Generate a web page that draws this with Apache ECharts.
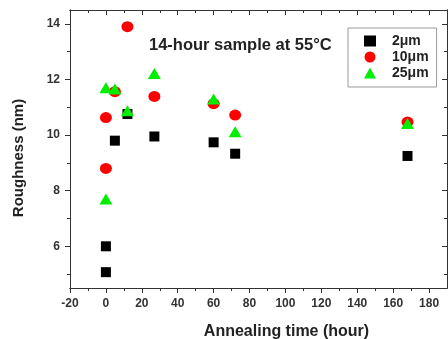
<!DOCTYPE html>
<html><head><meta charset="utf-8">
<script src="https://cdn.jsdelivr.net/npm/echarts@6/dist/echarts.min.js"></script>
<style>html,body{margin:0;padding:0;background:#fff}#c{width:448px;height:339px}</style>
</head><body><div id="c"></div>
<script>
const xTickLabels = [-20, 0, 20, 40, 60, 80, 100, 120, 140, 160, 180];
const xMinorTicks = [-10, 10, 30, 50, 70, 90, 110, 130, 150, 170];
const yTickLabels = [6, 8, 10, 12, 14];
const yMinorTicks = [5, 7, 9, 11, 13];
const seriesNames = ['2\u03bcm', '10\u03bcm', '25\u03bcm'];
const s2um = [[0, 6.0], [0, 5.07], [5, 9.8], [12, 10.76], [27, 9.95], [60, 9.74], [72, 9.33], [168, 9.25]];
const s10um = [[0, 10.63], [0, 8.8], [5, 11.56], [12, 13.9], [27, 11.39], [60, 11.13], [72, 10.72], [168, 10.47]];
const s25um = [[0, 11.7], [0, 7.7], [5, 11.66], [12, 10.88], [27, 12.22], [60, 11.3], [72, 10.12], [168, 10.42]];

const axisCol = '#333';
const labelFont = {fontFamily: 'Liberation Sans', fontWeight: 'bold', fontSize: 12, color: '#333'};
function xAx(pos, opts) {
  return Object.assign({
    type: 'value', min: -20, max: 190, position: pos, gridIndex: 0,
    splitLine: {show: false},
    axisLine: {show: true, onZero: false, lineStyle: {color: axisCol, width: 1}},
    axisLabel: {show: false},
    axisTick: {show: false}
  }, opts);
}
function yAx(pos, opts) {
  return Object.assign({
    type: 'value', min: 4.5, max: 14.5, position: pos, gridIndex: 0,
    splitLine: {show: false},
    axisLine: {show: true, onZero: false, lineStyle: {color: axisCol, width: 1}},
    axisLabel: {show: false},
    axisTick: {show: false}
  }, opts);
}
const tk = (vals, len, inside) => ({show: true, length: len, inside: inside, customValues: vals, lineStyle: {color: axisCol, width: 1}});
const chart = echarts.init(document.getElementById('c'), null, {renderer: 'canvas'});
chart.setOption({
  animation: false,
  backgroundColor: '#fff',
  title: {
    text: '14-hour sample at 55\u00b0C', left: 144, top: 32,
    textStyle: {fontFamily: 'Liberation Sans', fontWeight: 'bold', fontSize: 16.5, color: '#222'}
  },
  legend: {
    orient: 'vertical', left: 348, top: 28,
    data: seriesNames,
    itemWidth: 12, itemHeight: 11, itemGap: 2,
    padding: [6, 8, 7, 16],
    borderColor: '#999', borderWidth: 1,
    textStyle: {fontFamily: 'Liberation Sans', fontWeight: 'bold', fontSize: 14, color: '#222', padding: [0, 0, 0, 11], lineHeight: 14}
  },
  grid: {left: 70, right: 1, top: 10, bottom: 51, containLabel: false, outerBoundsMode: 'none'},
  xAxis: [
    xAx('bottom', {
      name: 'Annealing time (hour)', nameLocation: 'middle', nameGap: 36,
      nameTextStyle: {fontFamily: 'Liberation Sans', fontWeight: 'bold', fontSize: 16, color: '#222', padding: [0, 0, 0, 56]},
      axisLabel: {show: true, margin: 10, customValues: xTickLabels, ...labelFont},
      axisTick: tk(xTickLabels, 5, false)
    }),
    xAx('bottom', {axisTick: tk(xMinorTicks, 3, false)}),
    xAx('top', {axisTick: tk(xTickLabels, 5, true)}),
    xAx('top', {axisTick: tk(xMinorTicks, 3, true)})
  ],
  yAxis: [
    yAx('left', {
      name: 'Roughness (nm)', nameLocation: 'middle', nameGap: 44,
      nameTextStyle: {fontFamily: 'Liberation Sans', fontWeight: 'bold', fontSize: 15, color: '#222', padding: [0, 18, 0, 0]},
      axisLabel: {show: true, margin: 10, customValues: yTickLabels, ...labelFont},
      axisTick: tk(yTickLabels, 5, false)
    }),
    yAx('left', {axisTick: tk(yMinorTicks, 3, false)}),
    yAx('right', {axisTick: tk(yTickLabels, 5, true)}),
    yAx('right', {axisTick: tk(yMinorTicks, 3, true)})
  ],
  series: [
    {name: seriesNames[0], type: 'scatter', xAxisIndex: 0, yAxisIndex: 0, symbol: 'rect', symbolSize: 10,
     itemStyle: {color: '#000', opacity: 1}, data: s2um, z: 2},
    {name: seriesNames[1], type: 'scatter', xAxisIndex: 0, yAxisIndex: 0, symbol: 'circle', symbolSize: [12, 11],
     itemStyle: {color: '#ff0000', opacity: 1}, data: s10um, z: 3},
    {name: seriesNames[2], type: 'scatter', xAxisIndex: 0, yAxisIndex: 0, symbol: 'triangle', symbolSize: [13, 11],
     itemStyle: {color: '#00ee00', opacity: 1}, data: s25um, z: 4}
  ]
});
</script></body></html>
